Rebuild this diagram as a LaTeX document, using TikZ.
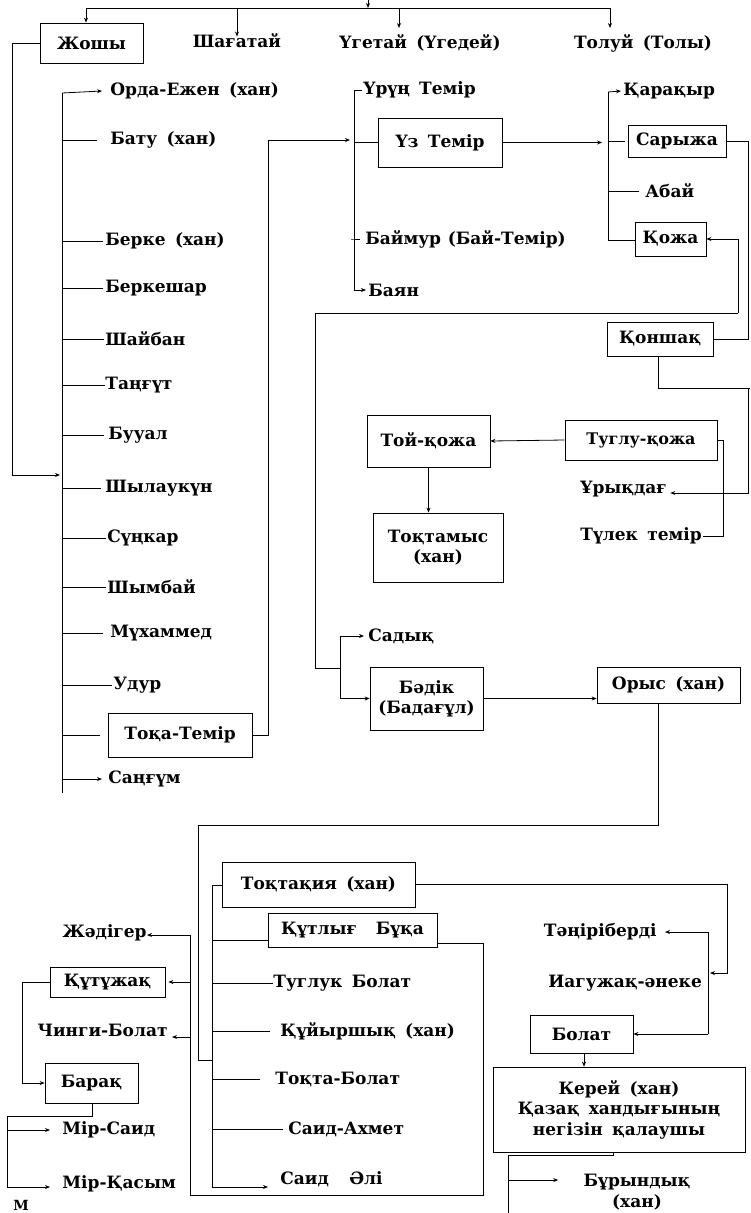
\documentclass[tikz,border=0pt]{standalone}
\usepackage{fontspec}
\setmainfont{DejaVu Serif}
\usetikzlibrary{arrows.meta,calc}
\newcommand\mygap{\hspace{0.55em}}
\begin{document}
\begin{tikzpicture}[x=1pt,y=-1pt,line width=0.8pt,
  every node/.style={font=\fontsize{17}{20}\selectfont\bfseries, inner sep=0pt},
  lbl/.style={anchor=west},
  lble/.style={anchor=east},
  bx/.style={draw, line width=0.8pt, align=center},
  arr/.style={-{Stealth[length=5pt,width=4pt]}}]
\useasboundingbox (0,0) rectangle (750,1213);
\clip (0,0) rectangle (750,1213);

% ---------- top generation ----------
\node[bx,minimum width=103pt,minimum height=40pt] (zhoshy) at (91.5,43) {Жошы};
\node (shag) at (237,41) {Шағатай};
\node (uget) at (420,43) {Үгетай\mygap(Үгедей)};
\node (tolui) at (643,43) {Толуй\mygap(Толы)};
\coordinate (top0) at (368,0);
\coordinate (topL) at (86,8);
\coordinate (topR) at (610,8);
\draw[arr] (top0) -- (368,8);
\draw (topL) -- (topR);
\draw[arr] (topL) -- (topL |- zhoshy.north);
\draw[arr] (shag.north |- topL) -- ([yshift=-3pt]shag.north);
\draw[arr] (399,8) -- (399,28);
\draw[arr] (topR) -- (610,28);

% ---------- sons of Zhoshy ----------
\coordinate (b1t) at (62,93);
\coordinate (b1b) at (62,793);
\draw (b1t) -- (b1b);
\draw[arr] (zhoshy.west) -- (12,43) -- (12,475) -- (60,475);
\node[lbl] (orda) at (110,91) {Орда-Ежен\mygap(хан)};
\node[lbl] (batu) at (110,140) {Бату\mygap(хан)};
\node[lbl] (berke) at (105,241) {Берке\mygap(хан)};
\node[lbl] (berkeshar) at (105,288) {Беркешар};
\node[lbl] (shaiban) at (105,339) {Шайбан};
\node[lbl] (tangut) at (105,385) {Таңғүт};
\node[lbl] (buual) at (108,435) {Бууал};
\node[lbl] (shylau) at (105,488) {Шылаукүн};
\node[lbl] (sunkar) at (107,538) {Сүңкар};
\node[lbl] (shymbai) at (107,587) {Шымбай};
\node[lbl] (mukh) at (110,633) {Мүхаммед};
\node[lbl] (udur) at (113,685) {Удур};
\node[bx,minimum width=144pt,minimum height=44pt] (tokatemir) at (180,735) {Тоқа-Темір};
\node[lbl] (sangum) at (108,779) {Саңғүм};
\draw[arr] (b1t) -- ([xshift=-8pt]orda.west);
\draw (b1t |- batu.west) -- ([xshift=-13pt]batu.west);
\draw (b1t |- berke.west) -- ([xshift=-2pt]berke.west);
\draw (b1t |- berkeshar.west) -- ([xshift=-2pt]berkeshar.west);
\draw (b1t |- shaiban.west) -- ([xshift=-1pt]shaiban.west);
\draw (b1t |- tangut.west) -- (tangut.west);
\draw (b1t |- buual.west) -- ([xshift=-4pt]buual.west);
\draw (b1t |- shylau.west) -- ([xshift=-4pt]shylau.west);
\draw (b1t |- sunkar.west) -- ([xshift=-1pt]sunkar.west);
\draw (b1t |- shymbai.west) -- ([xshift=-1pt]shymbai.west);
\draw (b1t |- mukh.west) -- ([xshift=-7pt]mukh.west);
\draw (b1t |- udur.west) -- ([xshift=-1pt]udur.west);
\draw (b1t |- tokatemir.west) -- ([xshift=-8pt]tokatemir.west);
\draw[arr] (b1t |- sangum.west) -- ([xshift=-6pt]sangum.west);

% ---------- sons of Toka-Temir ----------
\coordinate (b2t) at (354,90);
\coordinate (b2b) at (354,290);
\draw[arr] (tokatemir.east) -- (268,735) -- (268,140) -- (350,140);
\node[lbl] (urung) at (363,90) {Үрүң\mygap Темір};
\node[bx,minimum width=124pt,minimum height=49pt] (uztemir) at (440,142.5) {Үз\mygap Темір};
\node[lbl] (baimur) at (365,239) {Баймур\hspace{0.4em}(Бай-Темір)};
\node[lbl] (baian) at (368,290) {Баян};
\draw (b2b) -- (b2t) -- ([xshift=-1pt]urung.west);
\draw (b2t |- uztemir.west) -- (uztemir.west);
\draw (b2t |- baimur.west) -- ([xshift=-3pt]b2t |- baimur.west) -- ++(9pt,0);
\draw[arr] (b2b) -- ([xshift=-2pt]baian.west);

% ---------- sons of Uz Temir ----------
\coordinate (b3t) at (608,92);
\coordinate (b3b) at (608,240);
\draw[arr] (uztemir.east) -- (602,142.5);
\node[lbl] (karakyr) at (623,91) {Қарақыр};
\node[bx,minimum width=98pt,minimum height=32pt] (saryzha) at (677,141) {Сарыжа};
\node[lbl] (abai) at (645,191) {Абай};
\node[bx,minimum width=71pt,minimum height=34pt] (kozha) at (670.5,239) {Қожа};
\draw (b3b) -- (b3t);
\draw[arr] (b3t) -- ([xshift=-2pt]karakyr.west);
\draw (b3t |- saryzha.west) -- ([xshift=-3pt]saryzha.west);
\draw (b3t |- abai.west) -- ([xshift=-6pt]abai.west);
\draw (b3b) -- (kozha.west |- b3b);

% ---------- Konshak ----------
\node[bx,minimum width=106pt,minimum height=34pt] (konshak) at (660,339) {Қоншақ};
\draw (saryzha.east) -- (748,141) -- (748,339) -- (konshak.east);
\coordinate (jk) at (738,313);
\draw[arr] (jk) -- (738,239) -- (kozha.east);

% ---------- Tuglu-kozha, Toi-kozha, Toktamys ----------
\node[bx,minimum width=123pt,minimum height=52pt] (toikozha) at (428.5,441) {Той-қожа};
\node[bx,minimum width=152pt,minimum height=40pt,font=\fontsize{16}{19}\selectfont\bfseries] (tuglu) at (641,440) {Туглу-қожа};
\node[lbl] (urykdag) at (580,489) {Ұрықдағ};
\node[lbl] (tulek) at (580,536) {Түлек\mygap темір};
\node[bx,minimum width=130pt,minimum height=69pt] (toktamys) at (438,547.5) {Тоқтамыс\\(хан)};
\draw[arr] (tuglu.west) -- (toikozha.east);
\draw[arr] (toikozha.south) -- (toikozha.south |- toktamys.north);
\draw (tuglu.east) -- (723,440) |- ([xshift=1pt]tulek.east);
\draw (konshak.south -| 658,0) -- (658,388) -- (750,388);
\draw[arr] (748,388) -- (748,493) -- ([xshift=3pt]urykdag.east |- 0,493);

% ---------- Sadyk, Badik, Orys ----------
\coordinate (b4) at (340,668);
\node[lbl] (sadyk) at (368,636) {Садық};
\node[bx,minimum width=113pt,minimum height=63pt] (badik) at (426.5,698.5) {Бәдік\\(Бадағұл)};
\node[bx,minimum width=143pt,minimum height=36pt] (orys) at (668.5,685) {Орыс\mygap(хан)};
\draw (b4) -- (315,668) -- (315,313) -- (jk);
\draw[arr] (b4) |- ([xshift=-4pt]sadyk.west);
\draw[arr] (b4) |- (badik.west);
\draw[arr] (badik.east) -- (badik.east -| orys.west);

% ---------- sons of Orys ----------
\coordinate (b5t) at (212,885);
\coordinate (b5b) at (212,1187);
\draw (orys.south -| 658,0) -- (658,825) -- (198,825) -- (198,1060) -- (212,1060);
\node[bx,minimum width=193pt,minimum height=45pt] (toktakiya) at (318.5,884.5) {Тоқтақия\mygap(хан)};
\node[bx,minimum width=169pt,minimum height=34pt] (kutlyg) at (352.5,930) {Құтлығ\hspace{1.1em}Бұқа};
\node[lbl] (tugluk) at (273,983) {Туглук\mygap Болат};
\node[lbl] (kuiyr) at (280,1031) {Құйыршық\mygap(хан)};
\node[lbl] (tokta) at (275,1079) {Тоқта-Болат};
\node[lbl] (saidakh) at (288,1129) {Саид-Ахмет};
\node[lbl] (saidali) at (280,1179) {Саид\hspace{1.2em}Әлі};
\draw (b5b) -- (b5t) -- (toktakiya.west |- b5t);
\draw (b5t |- 0,940) -- (kutlyg.west |- 0,940);
\draw (b5t |- tugluk.west) -- (tugluk.west);
\draw (b5t |- kuiyr.west) -- ([xshift=-10pt]kuiyr.west);
\draw (b5t |- tokta.west) -- ([xshift=-15pt]tokta.west);
\draw (b5t |- saidakh.west) -- ([xshift=-5pt]saidakh.west);
\draw[arr] (b5b) -- ([xshift=-12pt]saidali.west |- b5b);

% ---------- Toktakiya -> Tangiberdi etc ----------
\coordinate (b6t) at (708,932);
\coordinate (b6b) at (708,1034);
\node[lble] (tangir) at (657,932) {Тәңіріберді};
\node[lbl] (iaguzhak) at (548,983) {Иагужақ-әнеке};
\node[bx,minimum width=103pt,minimum height=38pt] (bolat) at (581.5,1034) {Болат};
\draw[arr] (toktakiya.east) -- (727,884.5) -- (727,973) -- (710,973);
\draw (b6t) -- (b6b);
\draw[arr] (b6t) -- ([xshift=8pt]tangir.east);
\draw[arr] (b6b) -- (bolat.east);
\node[bx,minimum width=252pt,minimum height=85pt,font=\fontsize{17}{20.5}\selectfont\bfseries] (kerei) at (619,1109.5) {Керей\mygap(хан)\\Қазақ\mygap хандығының\\негізін\mygap қалаушы};
\draw[arr] (bolat.south -| 584,0) -- (kerei.north -| 584,0);
\node[align=center,font=\fontsize{17}{21}\selectfont\bfseries] (buryn) at (637,1192) {Бұрындық\\(хан)};
\coordinate (b8) at (508,1155);
\draw (kerei.south -| 613,0) -- (613,1155) -- (b8) -- (508,1213);
\draw[arr] (508,1180) -- ([xshift=-25pt]buryn.west |- 0,1180);

% ---------- sons of Kutlyg Buka ----------
\coordinate (b7t) at (190,935);
\coordinate (b7b) at (190,1195);
\node[lble] (zhadiger) at (147,933) {Жәдігер};
\node[bx,minimum width=115pt,minimum height=30pt] (kutuzhak) at (107.5,982) {Құтұжақ};
\node[lble] (chingi) at (168,1030) {Чинги-Болат};
\node[bx,minimum width=93pt,minimum height=40pt] (barak) at (91.5,1083) {Барақ};
\draw (kutlyg.east |- 0,943) -- (483,943) -- (483,1195) -- (b7b) -- (b7t);
\draw[arr] (b7t) -- (zhadiger.east |- b7t);
\draw[arr] (b7t |- kutuzhak.east) -- ([xshift=3pt]kutuzhak.east);
\draw[arr] (b7t |- 0,1037) -- (172,1037);
\draw[arr] (kutuzhak.west) -- (22,982) -- (22,1083) -- (barak.west);

% ---------- sons of Barak ----------
\node[lbl] (mirsaid) at (62,1130) {Мір-Саид};
\node[lbl] (mirkasym) at (62,1184) {Мір-Қасым};
\draw (barak.south -| 92,0) -- (92,1116) -- (7,1116) -- (7,1187);
\draw[arr] (7,1130) -- ([xshift=-12pt]mirsaid.west);
\draw[arr] (7,1187) -- ([xshift=-12pt]mirkasym.west |- 0,1187);
\node[lbl,font=\fontsize{14}{16}\selectfont\bfseries] (mfrag) at (13,1205) {М};
\end{tikzpicture}
\end{document}
